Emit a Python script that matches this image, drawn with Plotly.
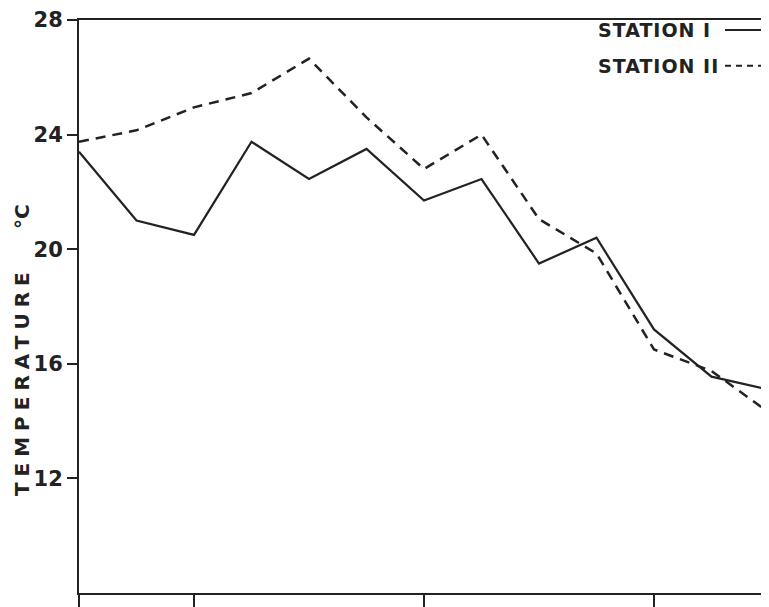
import plotly.graph_objects as go

# Sampling index (x positions) and temperatures
sample = list(range(13))
station_1 = [23.4, 21.0, 20.5, 23.75, 22.45, 23.5, 21.7, 22.45, 19.5, 20.4, 17.2, 15.55, 15.1]
station_2 = [23.75, 24.15, 24.95, 25.45, 26.65, 24.6, 22.8, 24.0, 21.05, 19.85, 16.5, 15.75, 14.3]

y_ticks = [12, 16, 20, 24, 28]
x_ticks = [0, 2, 6, 10]
legend_labels = ["STATION I", "STATION II"]

ink = "#222222"
font = "DejaVu Sans"

# page body has an ~8px margin; plot area in screen px: left 79, right 769, top 20, bottom 596
off = 8
W, H = 769 - off, 607 - off
PL, PR, PT, PB = 79, 769, 20, 596
pw, ph = PR - PL, PB - PT

fig = go.Figure()
fig.add_trace(go.Scatter(x=sample, y=station_1, mode="lines", name=legend_labels[0],
                         line=dict(color=ink, width=2.2, dash="solid"), showlegend=False))
fig.add_trace(go.Scatter(x=sample, y=station_2, mode="lines", name=legend_labels[1],
                         line=dict(color=ink, width=2.5, dash="10px,7px"), showlegend=False))

fig.update_layout(
    width=W, height=H,
    margin=dict(l=PL - off, r=0, t=PT - off, b=H - (PB - off)),
    paper_bgcolor="white", plot_bgcolor="white",
    font=dict(family=font, color=ink),
    xaxis=dict(range=[0, 12], showgrid=False, zeroline=False, showline=True,
               linecolor=ink, linewidth=2, mirror=True,
               tickvals=x_ticks, ticktext=["" for _ in x_ticks],
               ticks="outside", ticklen=14, tickwidth=2, tickcolor=ink),
    yaxis=dict(range=[8, 28], showgrid=False, zeroline=False, showline=True,
               linecolor=ink, linewidth=2, automargin=False, ticklabeloverflow="allow",
               tickvals=y_ticks, ticktext=[f"<b>{v}</b>" for v in y_ticks],
               ticks="outside", ticklen=10, tickwidth=2, tickcolor=ink,
               tickfont=dict(size=21, family=font, color=ink)),
)

def px_x(sx):
    return (sx - PL) / pw

def px_y(sy):
    return (PB - sy) / ph

# Y axis title, widely letter-spaced, sitting low as in the original
fig.add_annotation(text='<b><span style="letter-spacing:6px">TEMPERATURE</span></b>', textangle=-90,
                   xref="paper", yref="paper", x=px_x(22), y=px_y(383),
                   xanchor="center", yanchor="middle", showarrow=False,
                   font=dict(size=20, family=font, color=ink))
fig.add_annotation(text="<b>°C</b>", textangle=-90,
                   xref="paper", yref="paper", x=px_x(22), y=px_y(218),
                   xanchor="center", yanchor="middle", showarrow=False,
                   font=dict(size=20, family=font, color=ink))

# Legend: text with the line key to its right
legend_y = [30, 66]
dashes = ["solid", "6px,5px"]
for label, sy, dsh in zip(legend_labels, legend_y, dashes):
    fig.add_annotation(text=f'<b><span style="letter-spacing:1px">{label}</span></b>',
                       xref="paper", yref="paper",
                       x=px_x(596), y=px_y(sy), xanchor="left", yanchor="middle",
                       showarrow=False, font=dict(size=19, family=font, color=ink))
    fig.add_shape(type="line", xref="paper", yref="paper",
                  x0=px_x(725), x1=px_x(765), y0=px_y(sy), y1=px_y(sy),
                  line=dict(color=ink, width=2, dash=dsh))

fig.write_html("out.html")
